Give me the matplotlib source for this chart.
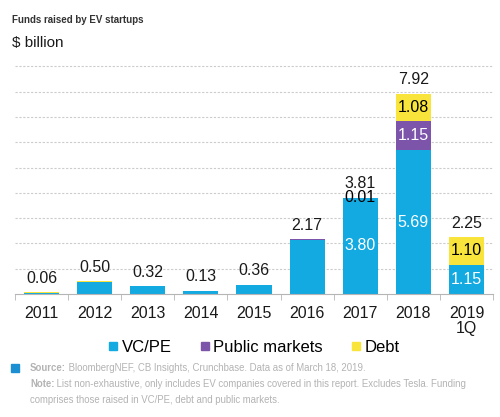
import matplotlib
matplotlib.use("Agg")
import matplotlib.pyplot as plt
from matplotlib.lines import Line2D
import numpy as np

plt.rcParams["font.family"] = ["Liberation Sans", "DejaVu Sans"]

years = ["2011", "2012", "2013", "2014", "2015", "2016", "2017", "2018", "2019\n1Q"]
vc_pe = [0.03, 0.48, 0.32, 0.13, 0.36, 2.15, 3.80, 5.69, 1.15]
public = [0.00, 0.00, 0.00, 0.00, 0.00, 0.02, 0.00, 1.15, 0.00]
debt = [0.03, 0.02, 0.00, 0.00, 0.00, 0.00, 0.01, 1.08, 1.10]
totals = [0.06, 0.50, 0.32, 0.13, 0.36, 2.17, 3.81, 7.92, 2.25]

# in-bar labels: (index, y-value, text, colour)
seg_labels = [(6, 1.90, "3.80", "white"), (6, 3.81, "0.01", "black"),
              (7, 2.845, "5.69", "white"), (7, 6.265, "1.15", "white"),
              (7, 7.38, "1.08", "black"),
              (8, 0.575, "1.15", "white"), (8, 1.70, "1.10", "black")]

BLUE = "#13a9e1"
PURPLE = "#7c55ab"
YELLOW = "#f8e43a"

fig = plt.figure(figsize=(5.0, 4.17), dpi=100, facecolor="white")
ax = fig.add_axes([0.03, 0.295, 0.956, 0.558])

x = np.arange(len(years))
w = 0.66
vc = np.array(vc_pe); pm = np.array(public); db = np.array(debt)
ax.bar(x, vc, w, color=BLUE, zorder=2)
ax.bar(x, pm, w, bottom=vc, color=PURPLE, zorder=2)
ax.bar(x, db, w, bottom=vc + pm, color=YELLOW, zorder=2)

for i, t in enumerate(totals):
    ax.annotate(f"{t:.2f}", (x[i], t), xytext=(0, 10), textcoords="offset points",
                ha="center", va="center", fontsize=11.5, color="#1a1a1a")
for i, yv, txt, c in seg_labels:
    ax.text(x[i], yv, txt, ha="center", va="center", fontsize=11.5, color=c, zorder=3)

ax.set_xlim(-0.5, len(years) - 0.5)
ax.set_ylim(0, 9.2)
ax.set_yticks(np.arange(1, 10))
ax.yaxis.grid(True, color="#cccccc", linestyle=(0, (2, 1.5)), linewidth=0.8, zorder=0)
ax.set_axisbelow(True)
ax.tick_params(axis="y", left=False, labelleft=False)
for s in ["top", "right", "left"]:
    ax.spines[s].set_visible(False)
ax.spines["bottom"].set_color("#b5b5b5")
ax.set_xticks(x)
ax.set_xticklabels(years, fontsize=11.5, color="#1a1a1a", linespacing=1.0)
ax.set_xticks(np.arange(-0.5, len(years)), minor=True)
ax.tick_params(axis="x", which="major", length=0, pad=9)
ax.tick_params(axis="x", which="minor", length=4, color="#b5b5b5")

fig.text(0.024, 0.952, "Funds raised by EV startups", fontsize=7, fontweight="bold",
         color="#333333", va="center")
fig.text(0.024, 0.897, "$ billion", fontsize=11, color="#1a1a1a", va="center")

handles = [Line2D([], [], marker="s", linestyle="none", markersize=6, color=c)
           for c in (BLUE, PURPLE, YELLOW)]
fig.legend(handles, ["VC/PE", "Public markets", "Debt"], loc="center",
           bbox_to_anchor=(0.506, 0.166), ncol=3, frameon=False, fontsize=12,
           handletextpad=0.1, columnspacing=1.6, handlelength=0.8)

fig.patches.append(plt.Rectangle((0.022, 0.108), 0.016, 0.019, transform=fig.transFigure,
                                 color="#1b8fd2", figure=fig))
GREY = "#b3b3b3"
FS = 6.9
s1 = fig.text(0.06, 0.117, "Source:", fontsize=FS, fontweight="bold", color=GREY, va="center")
ax.annotate(" BloombergNEF, CB Insights, Crunchbase. Data as of March 18, 2019.",
            xy=(1, 0.5), xycoords=s1, va="center", fontsize=FS, color=GREY,
            annotation_clip=False)
s2 = fig.text(0.06, 0.080, "Note:", fontsize=FS, fontweight="bold", color=GREY, va="center")
ax.annotate(" List non-exhaustive, only includes EV companies covered in this report. "
            "Excludes Tesla. Funding", xy=(1, 0.5), xycoords=s2, va="center",
            fontsize=FS, color=GREY, annotation_clip=False)
fig.text(0.06, 0.041, "comprises those raised in VC/PE, debt and public markets.",
         fontsize=FS, color=GREY, va="center")

fig.savefig("out.png", dpi=100, facecolor="white")
